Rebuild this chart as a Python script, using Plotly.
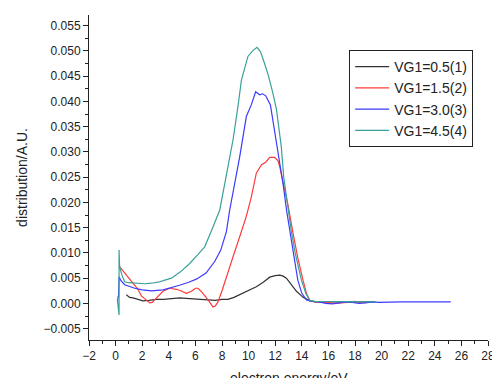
import plotly.graph_objects as go

# ---- data ----
names = ["VG1=0.5(1)", "VG1=1.5(2)", "VG1=3.0(3)", "VG1=4.5(4)"]
colors = ["#333333", "#ff3b3b", "#3b3bff", "#3aa09a"]

x1 = [0.81, 1.05, 1.31, 1.7, 2.06, 2.5, 3.07, 3.6, 4.2, 4.82, 5.3, 5.82, 6.2, 6.57, 7.0, 7.5, 8.0, 8.45,
      8.9, 9.33, 9.9, 10.58, 11.1, 11.59, 12.0, 12.34, 12.6, 12.84, 13.1, 13.34, 13.6, 14.1, 14.6, 15.0,
      15.5, 16.0, 16.5, 17.0, 17.5, 18.0, 18.5, 19.0, 19.5]
y1 = [0.0017, 0.0012, 0.0011, 0.0008, 0.0005, 0.0006, 0.0008, 0.0008, 0.0009, 0.0011, 0.0010, 0.0009,
      0.0009, 0.0008, 0.0006, 0.0006, 0.0008, 0.0008, 0.0012, 0.0017, 0.0024, 0.0033, 0.0042, 0.0052,
      0.0055, 0.0056, 0.0054, 0.0050, 0.0041, 0.0032, 0.0024, 0.0012, 0.0005, 0.0003, 0.0003, 0.0004,
      0.0003, 0.0003, 0.0004, 0.0003, 0.0003, 0.0003, 0.0003]

x2 = [0.3, 0.45, 0.68, 1.06, 1.31, 1.68, 1.94, 2.19, 2.4, 2.56, 2.75, 2.94, 3.2, 3.56, 4.07, 4.57, 4.9,
      5.32, 5.7, 6.0, 6.2, 6.5, 6.95, 7.32, 7.5, 7.7, 8.0, 8.33, 8.8, 9.33, 9.8, 10.2, 10.58, 10.96, 11.3,
      11.59, 11.96, 12.2, 12.34, 12.71, 12.96, 13.34, 13.7, 14.09, 14.35, 14.6, 15.0, 15.5, 16.0, 16.5,
      17.0, 17.5, 18.0, 18.5, 19.1]
y2 = [0.0073, 0.0068, 0.0061, 0.0048, 0.0039, 0.0028, 0.0015, 0.0009, 0.0004, 0.0001, 0.0002, 0.0007,
      0.0014, 0.0024, 0.0030, 0.0028, 0.0025, 0.0020, 0.0024, 0.0030, 0.0030, 0.0022, 0.0007, -0.0007,
      -0.0005, 0.0003, 0.0025, 0.0053, 0.0090, 0.0132, 0.0170, 0.0210, 0.0258, 0.0274, 0.0280, 0.0289,
      0.0289, 0.0283, 0.0271, 0.0225, 0.0195, 0.0139, 0.0090, 0.0046, 0.0020, 0.0006, 0.0003, 0.0003,
      0.0002, 0.0000, 0.0001, 0.0003, 0.0004, 0.0002, 0.0002]

x3 = [0.15, 0.2, 0.22, 0.26, 0.4, 0.68, 1.0, 1.44, 2.0, 2.44, 2.7, 3.57, 4.2, 4.8, 5.5, 6.07, 6.8, 7.45,
      7.9, 8.33, 8.58, 9.0, 9.33, 9.83, 10.2, 10.53, 10.83, 11.05, 11.29, 11.64, 11.96, 12.34, 12.6,
      12.85, 13.09, 13.4, 13.7, 14.0, 14.35, 14.8, 15.3, 15.8, 16.3, 16.8, 17.3, 17.8, 18.3, 18.8, 19.3,
      19.8, 20.5, 21.5, 22.5, 23.2, 23.5, 24.2, 25.2]
y3 = [0.0005, 0.0015, 0.0013, 0.0053, 0.0045, 0.0037, 0.0034, 0.0030, 0.0027, 0.0025, 0.0025, 0.0027,
      0.0031, 0.0036, 0.0042, 0.0048, 0.0060, 0.0083, 0.0105, 0.0142, 0.0185, 0.0240, 0.0290, 0.0370,
      0.0393, 0.0419, 0.0413, 0.0415, 0.0411, 0.0393, 0.0343, 0.0277, 0.0235, 0.0185, 0.0145, 0.0095,
      0.0046, 0.0020, 0.0007, 0.0004, 0.0003, 0.0000, -0.0001, 0.0001, 0.0003, 0.0002, 0.0000, 0.0001,
      0.0003, 0.0002, 0.0003, 0.0003, 0.0003, 0.0004, 0.0003, 0.0003, 0.0003]

x4 = [0.13, 0.26, 0.26, 0.3, 0.45, 0.68, 1.0, 1.56, 2.2, 2.69, 3.2, 3.7, 4.2, 4.9, 5.57, 6.2, 6.7, 7.3,
      7.83, 8.3, 8.83, 9.2, 9.46, 9.95, 10.3, 10.63, 10.9, 11.2, 11.5, 11.83, 12.1, 12.46, 12.64, 12.96,
      13.2, 13.5, 13.97, 14.3, 14.6, 15.0, 15.5, 16.0, 16.5, 17.0, 17.5, 18.0, 18.5, 19.0, 19.6]
y4 = [0.0008, -0.0023, 0.0106, 0.0074, 0.0058, 0.0043, 0.0041, 0.0040, 0.0039, 0.0040, 0.0042, 0.0046,
      0.0050, 0.0063, 0.0079, 0.0097, 0.0112, 0.0150, 0.0185, 0.0250, 0.0324, 0.0390, 0.0442, 0.0489,
      0.0500, 0.0507, 0.0498, 0.0475, 0.0450, 0.0416, 0.0383, 0.0310, 0.0250, 0.0190, 0.0145, 0.0100,
      0.0046, 0.0020, 0.0006, 0.0004, 0.0004, 0.0004, 0.0004, 0.0003, 0.0004, 0.0004, 0.0003, 0.0003,
      0.0003]

xs = [x1, x2, x3, x4]
ys = [y1, y2, y3, y4]

fig = go.Figure()
for n, c, xv, yv in zip(names, colors, xs, ys):
    fig.add_trace(go.Scatter(x=xv, y=yv, mode="lines", name=n,
                             line=dict(color=c, width=1.2)))

font = "Liberation Sans, Arial, sans-serif"
fig.update_layout(
    width=492, height=378,
    margin=dict(l=89, r=4, t=15, b=38),
    paper_bgcolor="white", plot_bgcolor="white",
    font=dict(family=font, size=12, color="#222222"),
    showlegend=True,
    legend=dict(x=0.652, y=0.892, xanchor="left", yanchor="top",
                bordercolor="#222222", borderwidth=1, bgcolor="white",
                font=dict(size=14, family=font, color="#222222"),
                itemwidth=34, tracegroupgap=0),
    xaxis=dict(range=[-2, 28], dtick=2, tick0=0, showgrid=False, zeroline=False,
               automargin=False, ticklabeloverflow="allow",
               showline=True, linecolor="#222222", linewidth=1,
               ticks="outside", ticklen=5, tickcolor="#222222",
               minor=dict(ticks="outside", dtick=1, ticklen=3, tickcolor="#222222")),
    yaxis=dict(range=[-0.00724, 0.0571], dtick=0.005, tick0=0, tickformat=".3f",
               showgrid=False, zeroline=False, automargin=False,
               showline=True, linecolor="#222222", linewidth=1,
               ticks="outside", ticklen=5, tickcolor="#222222",
               minor=dict(ticks="outside", dtick=0.0025, ticklen=3, tickcolor="#222222"),
               title=dict(text="distribution/A.U.", standoff=12, font=dict(size=14))),
    annotations=[dict(text="electron energy/eV", xref="paper", yref="paper",
                      x=0.5, y=-0.118, xanchor="center", yanchor="middle",
                      showarrow=False, font=dict(size=14, family=font, color="#222222"))],
)

fig.write_html("out.html")
